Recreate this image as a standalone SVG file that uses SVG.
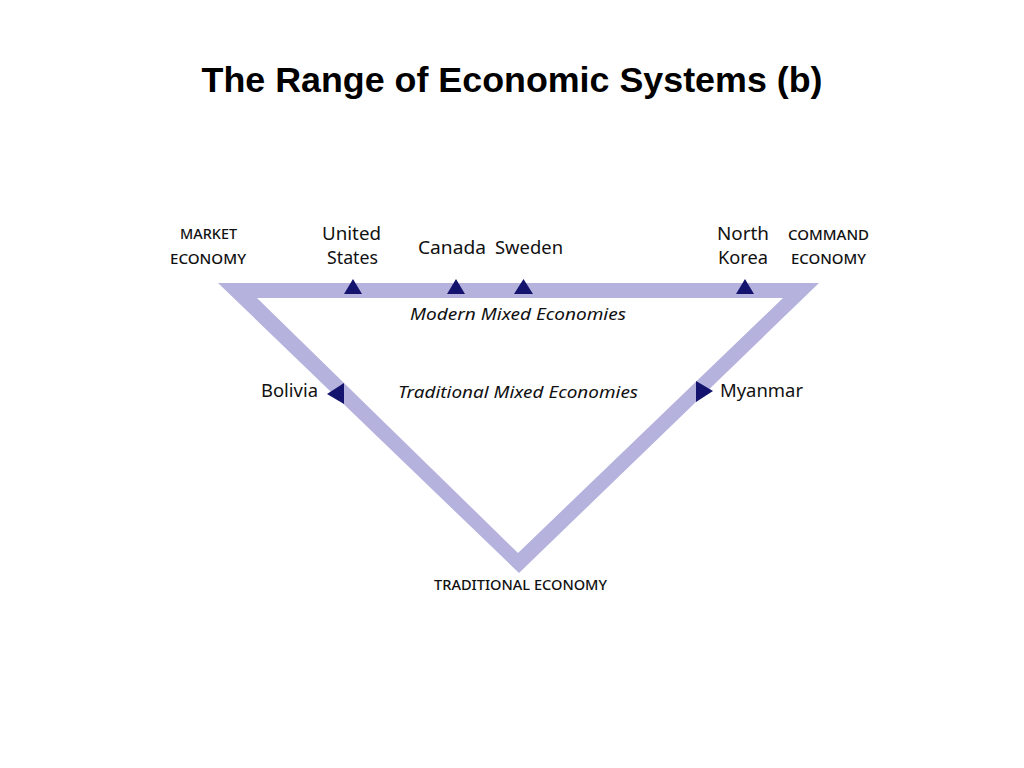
<svg xmlns="http://www.w3.org/2000/svg" width="1024" height="768" viewBox="0 0 1024 768">
<style>
  .title { font-family: "Liberation Sans", Arial, sans-serif; font-weight: bold; font-size: 35px; fill: #000; }
  .lbl { font-family: "Noto Sans", "Open Sans", sans-serif; font-size: 18px; fill: #111; }
  .cap { font-family: "Noto Sans", "Open Sans", sans-serif; font-size: 13.5px; font-weight: 500; fill: #111; }
  .it { font-family: "Noto Sans", "Open Sans", sans-serif; font-style: italic; font-size: 17px; fill: #111; }
  .band { fill: #b5b2de; fill-rule: evenodd; }
  .mark { fill: #14146e; }
</style>
<rect width="1024" height="768" fill="#fff"/>
<text class="title" x="512" y="92" text-anchor="middle" textLength="621" lengthAdjust="spacingAndGlyphs">The Range of Economic Systems (b)</text>

<g id="triangle">
  <path class="band" d="M218,283 L819,283 L519,573 Z M257,298 L518,553 L783,298 Z"/>
</g>

<g id="connectors">
  <polygon class="mark" points="344,294 362,294 353,279"/>
  <polygon class="mark" points="447,294 465,294 456,279"/>
  <polygon class="mark" points="514,294 533,294 523.5,279"/>
  <polygon class="mark" points="736,294 754,294 745,279"/>
  <polygon class="mark" points="327,394 344,383 344,404"/>
  <polygon class="mark" points="713,391 696,381 696,402"/>
</g>

<g id="market">
  <text class="cap" x="208.5" y="239" text-anchor="middle" textLength="57" lengthAdjust="spacingAndGlyphs">MARKET</text>
  <text class="cap" x="208" y="264" text-anchor="middle" textLength="76" lengthAdjust="spacingAndGlyphs">ECONOMY</text>
</g>
<g id="us">
  <text class="lbl" x="351.5" y="240" text-anchor="middle" textLength="59" lengthAdjust="spacingAndGlyphs">United</text>
  <text class="lbl" x="352.5" y="264" text-anchor="middle" textLength="51" lengthAdjust="spacingAndGlyphs">States</text>
</g>
<g id="canada">
  <text class="lbl" x="452" y="254" text-anchor="middle" textLength="68" lengthAdjust="spacingAndGlyphs">Canada</text>
</g>
<g id="sweden">
  <text class="lbl" x="529" y="254" text-anchor="middle" textLength="68" lengthAdjust="spacingAndGlyphs">Sweden</text>
</g>
<g id="northkorea">
  <text class="lbl" x="743" y="240" text-anchor="middle" textLength="52" lengthAdjust="spacingAndGlyphs">North</text>
  <text class="lbl" x="743" y="264" text-anchor="middle" textLength="50" lengthAdjust="spacingAndGlyphs">Korea</text>
</g>
<g id="command">
  <text class="cap" x="828.5" y="240" text-anchor="middle" textLength="81" lengthAdjust="spacingAndGlyphs">COMMAND</text>
  <text class="cap" x="828.5" y="264" text-anchor="middle" textLength="75" lengthAdjust="spacingAndGlyphs">ECONOMY</text>
</g>
<g id="modern">
  <text class="it" x="518" y="320" text-anchor="middle" textLength="216" lengthAdjust="spacingAndGlyphs">Modern Mixed Economies</text>
</g>
<g id="tradmixed">
  <text class="it" x="518" y="398" text-anchor="middle" textLength="240" lengthAdjust="spacingAndGlyphs">Traditional Mixed Economies</text>
</g>
<g id="bolivia">
  <text class="lbl" x="289.5" y="397" text-anchor="middle" textLength="57" lengthAdjust="spacingAndGlyphs">Bolivia</text>
</g>
<g id="myanmar">
  <text class="lbl" x="761.5" y="397" text-anchor="middle" textLength="83" lengthAdjust="spacingAndGlyphs">Myanmar</text>
</g>
<g id="traditional">
  <text class="cap" x="520.5" y="590" text-anchor="middle" textLength="173" lengthAdjust="spacingAndGlyphs">TRADITIONAL ECONOMY</text>
</g>
</svg>
